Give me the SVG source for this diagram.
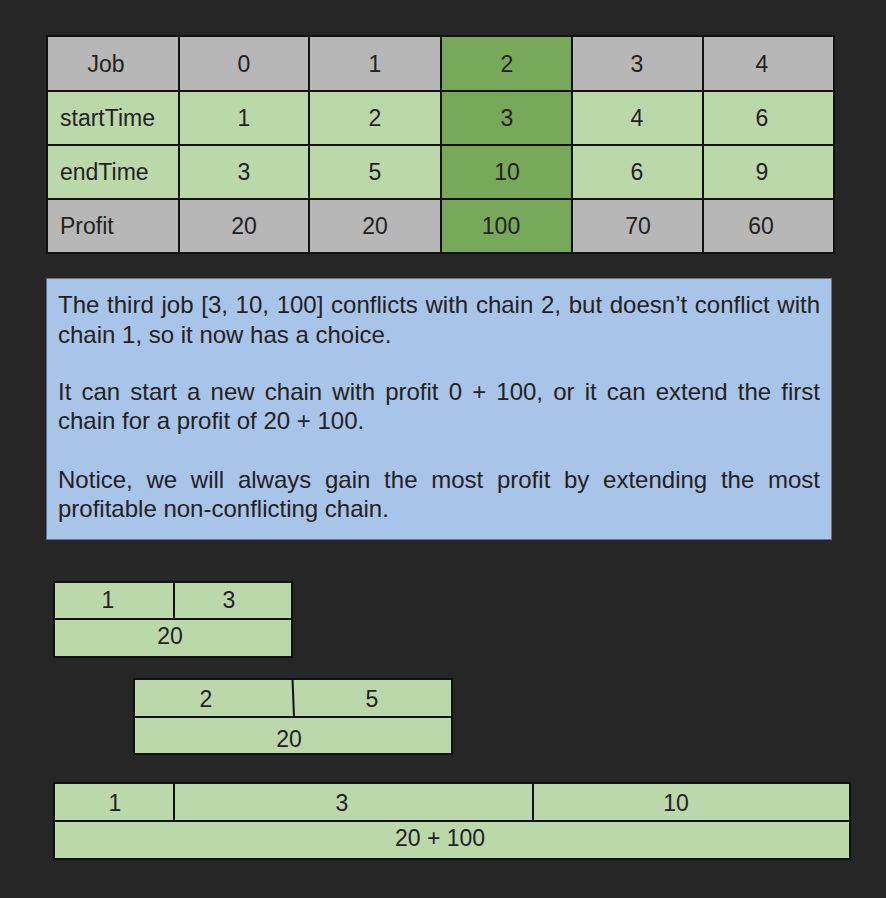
<svg xmlns="http://www.w3.org/2000/svg" width="886" height="898" viewBox="0 0 886 898">
<style>
.t{font-family:"Liberation Sans",Arial,sans-serif;font-size:23px;fill:#222;}
.c{text-anchor:middle;}
.n{font-family:"Liberation Sans",Arial,sans-serif;font-size:24px;fill:#222;}
.g{fill:#b7b7b7;stroke:#111;stroke-width:2;}
.l{fill:#bbd8ab;stroke:#111;stroke-width:2;}
.d{fill:#78a85a;stroke:#111;stroke-width:2;}
.ln{stroke:#111;stroke-width:2;fill:none;}
</style>
<rect width="886" height="898" fill="#262626"/>
<g id="table">
<rect class="g" x="47" y="36" width="132" height="55"/>
<rect class="g" x="179" y="36" width="130" height="55"/>
<rect class="g" x="309" y="36" width="132" height="55"/>
<rect class="d" x="441" y="36" width="131" height="55"/>
<rect class="g" x="572" y="36" width="131" height="55"/>
<rect class="g" x="703" y="36" width="131" height="55"/>
<rect class="l" x="47" y="91" width="132" height="54"/>
<rect class="l" x="179" y="91" width="130" height="54"/>
<rect class="l" x="309" y="91" width="132" height="54"/>
<rect class="d" x="441" y="91" width="131" height="54"/>
<rect class="l" x="572" y="91" width="131" height="54"/>
<rect class="l" x="703" y="91" width="131" height="54"/>
<rect class="l" x="47" y="145" width="132" height="54"/>
<rect class="l" x="179" y="145" width="130" height="54"/>
<rect class="l" x="309" y="145" width="132" height="54"/>
<rect class="d" x="441" y="145" width="131" height="54"/>
<rect class="l" x="572" y="145" width="131" height="54"/>
<rect class="l" x="703" y="145" width="131" height="54"/>
<rect class="g" x="47" y="199" width="132" height="54"/>
<rect class="g" x="179" y="199" width="130" height="54"/>
<rect class="g" x="309" y="199" width="132" height="54"/>
<rect class="d" x="441" y="199" width="131" height="54"/>
<rect class="g" x="572" y="199" width="131" height="54"/>
<rect class="g" x="703" y="199" width="131" height="54"/>
<rect class="ln" x="47" y="36" width="787" height="217" stroke-width="2.5"/>
<text class="t c" x="106" y="72">Job</text>
<text class="t c" x="244" y="72">0</text>
<text class="t c" x="375" y="72">1</text>
<text class="t c" x="507" y="72">2</text>
<text class="t c" x="637" y="72">3</text>
<text class="t c" x="762" y="72">4</text>
<text class="t" x="60" y="126">startTime</text>
<text class="t c" x="244" y="126">1</text>
<text class="t c" x="375" y="126">2</text>
<text class="t c" x="507" y="126">3</text>
<text class="t c" x="637" y="126">4</text>
<text class="t c" x="762" y="126">6</text>
<text class="t" x="60" y="180">endTime</text>
<text class="t c" x="244" y="180">3</text>
<text class="t c" x="375" y="180">5</text>
<text class="t c" x="507" y="180">10</text>
<text class="t c" x="637" y="180">6</text>
<text class="t c" x="762" y="180">9</text>
<text class="t" x="60" y="234">Profit</text>
<text class="t c" x="244" y="234">20</text>
<text class="t c" x="375" y="234">20</text>
<text class="t c" x="501" y="234">100</text>
<text class="t c" x="638" y="234">70</text>
<text class="t c" x="761" y="234">60</text>
</g>
<g id="note">
<rect x="46.5" y="278.5" width="785" height="261" fill="#a8c4e8" stroke="#6b7380" stroke-width="1"/>
<text class="n" x="58" y="313" word-spacing="1" textLength="762" lengthAdjust="spacing">The third job [3, 10, 100] conflicts with chain 2, but doesn’t conflict with</text>
<text class="n" x="58" y="343">chain 1, so it now has a choice.</text>
<text class="n" x="58" y="400" word-spacing="3.5" textLength="762" lengthAdjust="spacing">It can start a new chain with profit 0 + 100, or it can extend the first</text>
<text class="n" x="58" y="429">chain for a profit of 20 + 100.</text>
<text class="n" x="58" y="488" word-spacing="7" textLength="762" lengthAdjust="spacing">Notice, we will always gain the most profit by extending the most</text>
<text class="n" x="58" y="517">profitable non-conflicting chain.</text>
</g>
<g id="chain1">
<rect class="l" x="54" y="582" width="238" height="75"/>
<line class="ln" x1="54" y1="619" x2="292" y2="619"/>
<line class="ln" x1="174" y1="582" x2="174" y2="619"/>
<text class="t c" x="108" y="608">1</text>
<text class="t c" x="229" y="608">3</text>
<text class="t c" x="170" y="644">20</text>
</g>
<g id="chain2">
<rect class="l" x="134" y="679" width="318" height="75"/>
<line class="ln" x1="134" y1="717" x2="452" y2="717"/>
<line class="ln" x1="292.5" y1="679" x2="294" y2="717"/>
<text class="t c" x="206" y="707">2</text>
<text class="t c" x="372" y="707">5</text>
<text class="t c" x="289" y="747">20</text>
</g>
<g id="chain3">
<rect class="l" x="54" y="783" width="796" height="76"/>
<line class="ln" x1="54" y1="821" x2="850" y2="821"/>
<line class="ln" x1="174" y1="783" x2="174" y2="821"/>
<line class="ln" x1="533" y1="783" x2="533" y2="821"/>
<text class="t c" x="115" y="811">1</text>
<text class="t c" x="342" y="811">3</text>
<text class="t c" x="676" y="811">10</text>
<text class="t c" x="440" y="846">20 + 100</text>
</g>
</svg>
